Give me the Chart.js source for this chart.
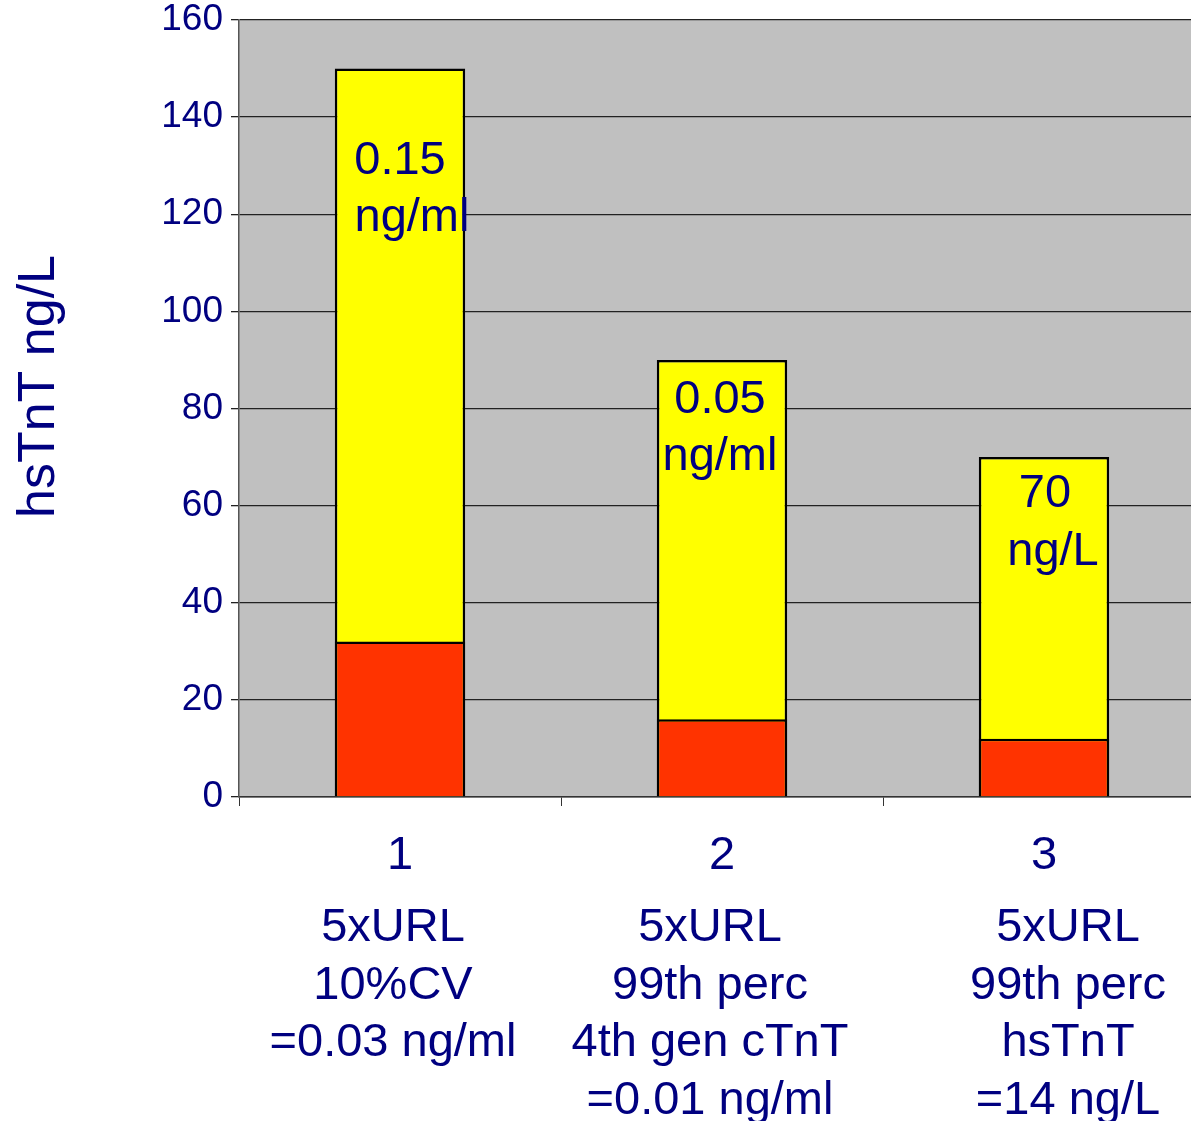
<!DOCTYPE html>
<html>
<head>
<meta charset="utf-8">
<script src="https://cdn.jsdelivr.net/npm/chart.js@4.4.1/dist/chart.umd.min.js"></script>
<style>
  html, body { margin: 0; padding: 0; background: #ffffff; overflow: hidden; }
  #wrap { width: 1191px; height: 1121px; overflow: hidden; }
</style>
</head>
<body>
<div id="wrap"><canvas id="c" width="1205" height="1121"></canvas></div>
<script>
// ---- data ----
const categories = ['1', '2', '3'];
const totalValues = [150, 90, 70];      // yellow bars (ng/L)
const baseValues = [32, 16, 12];        // red bars (ng/L)
const barNotes = [['0.15', 'ng/ml'], ['0.05', 'ng/ml'], ['70', 'ng/L']];
const categoryNotes = [
  ['5xURL', '10%CV', '=0.03 ng/ml'],
  ['5xURL', '99th perc', '4th gen cTnT', '=0.01 ng/ml'],
  ['5xURL', '99th perc', 'hsTnT', '=14 ng/L']
];
const yTitle = 'hsTnT ng/L';

// ---- style ----
const NAVY = '#000080';
const FONT = '"Liberation Sans", Arial, sans-serif';
const noteFontPx = 47;
const lineStep = 57.5;
// per-bar note placement: baseline value of first line, x offsets (px) of lines
const barNoteBaseVal = [128.3, 79.1, 59.7];
const barNoteDx = [[0, 12], [-2, -2], [1, 9]];
const catNoteDx = [-7, -12, 24];

const bgPlugin = {
  id: 'plotBg',
  beforeDraw(chart) {
    const { ctx, chartArea: a } = chart;
    ctx.save();
    ctx.fillStyle = '#C0C0C0';
    ctx.fillRect(a.left, a.top, a.right - a.left, a.bottom - a.top);
    ctx.restore();
  }
};

const notesPlugin = {
  id: 'notes',
  afterDatasetsDraw(chart) {
    const { ctx } = chart;
    const xs = chart.scales.x, ys = chart.scales.y;
    ctx.save();
    ctx.fillStyle = NAVY;
    ctx.font = noteFontPx + 'px ' + FONT;
    ctx.textAlign = 'center';
    ctx.textBaseline = 'alphabetic';
    barNotes.forEach((lines, i) => {
      const cx = xs.getPixelForValue(i);
      const y0 = ys.getPixelForValue(barNoteBaseVal[i]);
      lines.forEach((t, j) => ctx.fillText(t, cx + barNoteDx[i][j], y0 + j * lineStep));
    });
    const baseY = ys.getPixelForValue(0) + 144;
    categoryNotes.forEach((lines, i) => {
      const cx = xs.getPixelForValue(i) + catNoteDx[i];
      lines.forEach((t, j) => ctx.fillText(t, cx, baseY + j * lineStep));
    });
    // y axis title
    const a = chart.chartArea;
    ctx.translate(40, (a.top + a.bottom) / 2 - 22);
    ctx.rotate(-Math.PI / 2);
    ctx.font = '52px ' + FONT;
    ctx.textBaseline = 'middle';
    ctx.fillText(yTitle, 0, 0);
    ctx.restore();
  }
};

new Chart(document.getElementById('c'), {
  type: 'bar',
  data: {
    labels: categories,
    datasets: [
      {
        label: 'base',
        data: baseValues,
        backgroundColor: '#FF3300',
        borderColor: '#000000',
        borderWidth: 2.5,
        grouped: false,
        order: 0,
        barPercentage: 0.405,
        categoryPercentage: 1.0
      },
      {
        label: 'total',
        data: totalValues,
        backgroundColor: '#FFFF00',
        borderColor: '#000000',
        borderWidth: 2.5,
        grouped: false,
        order: 1,
        barPercentage: 0.405,
        categoryPercentage: 1.0
      }
    ]
  },
  options: {
    responsive: false,
    animation: false,
    devicePixelRatio: 1,
    layout: { padding: { top: 20, right: 0, left: 0, bottom: 0 } },
    plugins: {
      legend: { display: false },
      tooltip: { enabled: false }
    },
    scales: {
      x: {
        offset: true,
        grid: { display: true, drawOnChartArea: false, offset: true, tickLength: 9, color: '#333333', lineWidth: 1 },
        border: { display: true, color: '#333333', width: 1.5 },
        ticks: {
          color: NAVY,
          font: { family: FONT, size: 47 },
          padding: 22,
          maxRotation: 0
        },
        afterFit(scale) {
          scale.height = 1121 - 797;
          scale.paddingLeft = 0;
          scale.paddingRight = 0;
        }
      },
      y: {
        min: 0,
        max: 160,
        ticks: {
          stepSize: 20,
          color: NAVY,
          font: { family: FONT, size: 37 },
          padding: 8
        },
        grid: { color: '#222222', lineWidth: 1.3, tickLength: 8 },
        border: { display: true, color: '#555555', width: 1.5 },
        afterFit(scale) {
          scale.width = 239;
          scale.paddingTop = 0;
          scale.paddingBottom = 0;
        }
      }
    }
  },
  plugins: [bgPlugin, notesPlugin]
});
</script>
</body>
</html>
